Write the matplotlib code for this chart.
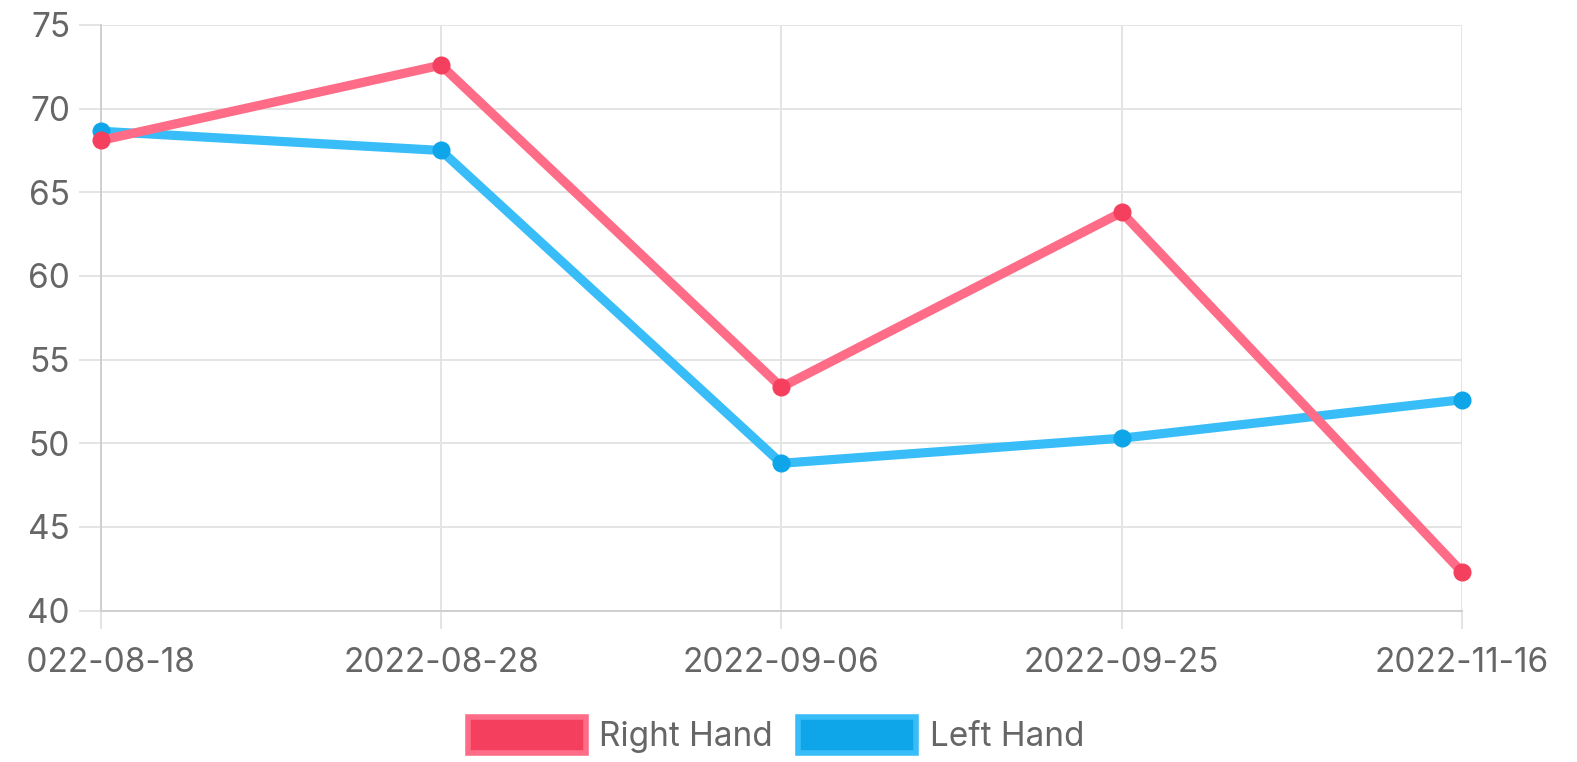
import matplotlib
matplotlib.use("Agg")
import matplotlib.pyplot as plt
from matplotlib.patches import Patch
from matplotlib.transforms import Bbox

# data
dates = ["2022-08-18", "2022-08-28", "2022-09-06", "2022-09-25", "2022-11-16"]
right_hand = [68.1, 72.6, 53.35, 63.8, 42.3]
left_hand = [68.65, 67.5, 48.8, 50.3, 52.6]
y_ticks = [40, 45, 50, 55, 60, 65, 70, 75]

RED_LINE = "#fe6c87"
RED_POINT = "#f43f5e"
BLUE_LINE = "#38bdf8"
BLUE_POINT = "#0ea5e9"
GRID = "#e4e4e4"
TEXT = "#666666"

plt.rcParams["font.family"] = ["Inter", "DejaVu Sans"]

fig = plt.figure(figsize=(15.77, 7.62), dpi=100)
ax = fig.add_axes([0.0638, 0.1988, 0.8633, 0.7684])

x = list(range(len(dates)))
ax.plot(x, left_hand, color=BLUE_LINE, linewidth=6.6, marker="o", markersize=12,
        markerfacecolor=BLUE_POINT, markeredgecolor=BLUE_POINT, clip_on=False, zorder=3,
        solid_joinstyle="round")
ax.plot(x, right_hand, color=RED_LINE, linewidth=6.6, marker="o", markersize=12,
        markerfacecolor=RED_POINT, markeredgecolor=RED_POINT, clip_on=False, zorder=4,
        solid_joinstyle="round")

ax.set_xlim(0, 4)
ax.set_ylim(40, 75)
ax.set_xticks(x, dates)
ax.set_yticks(y_ticks)
ax.grid(True, color=GRID, linewidth=1.4)
ax.set_axisbelow(True)

for s in ["top", "right"]:
    ax.spines[s].set_visible(False)
for s in ["left", "bottom"]:
    ax.spines[s].set_color("#cfcfcf")
    ax.spines[s].set_linewidth(1.4)

ax.tick_params(axis="y", length=16, width=1.4, color=GRID, pad=6, labelsize=24, labelcolor=TEXT)
ax.tick_params(axis="x", length=13, width=1.4, color=GRID, pad=13, labelsize=24, labelcolor=TEXT)

# the first date is cut at the left edge in the original
first = ax.xaxis.get_major_ticks()[0].label1
first.set_clip_box(Bbox([[27, 0], [400, 762]]))
first.set_clip_on(True)

handles = [
    Patch(facecolor=RED_POINT, edgecolor=RED_LINE, linewidth=4, label="Right Hand"),
    Patch(facecolor=BLUE_POINT, edgecolor=BLUE_LINE, linewidth=4, label="Left Hand"),
]
leg = fig.legend(handles=handles, loc="center", bbox_to_anchor=(0.492, 0.035), ncol=2,
                 frameon=False, fontsize=24, handlelength=3.55, handleheight=1.3,
                 handletextpad=0.4, columnspacing=0.75)
for t in leg.get_texts():
    t.set_color(TEXT)

fig.savefig("out.png", dpi=100)
